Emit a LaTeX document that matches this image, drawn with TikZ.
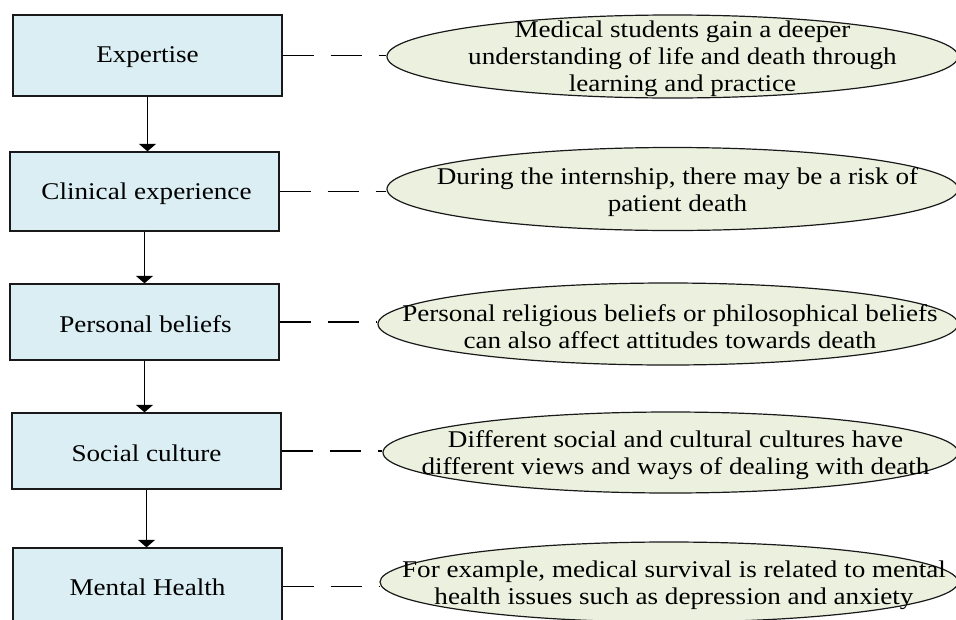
\documentclass[tikz,border=0pt]{standalone}
\usepackage{fontspec}
\setmainfont{Liberation Serif}[FakeStretch=1.13]
\usetikzlibrary{shapes.geometric,arrows.meta,calc}
\definecolor{boxfill}{HTML}{DAEEF3}
\definecolor{ellfill}{HTML}{EBF1DE}
\begin{document}
\begin{tikzpicture}[x=1pt,y=-1pt,
  stepbox/.style={draw=black!90,line width=1.3pt,fill=boxfill,rectangle,minimum width=269pt,inner sep=0pt},
  bubble/.style={draw=black!90,line width=1.2pt,fill=ellfill,ellipse,inner sep=0pt},
  bubbletext/.style={align=center,inner sep=0pt,font=\fontsize{24}{27}\selectfont},
  boxtext/.style={font=\fontsize{24}{27}\selectfont},
  arr/.style={line width=1.2pt,-{Triangle[width=17pt,length=7.5pt]}},
  conn/.style={line width=1.3pt,dash pattern=on 31pt off 17pt}]
\useasboundingbox (0,0) rectangle (956,619);
\clip (0,0) rectangle (956,619);
\fill[white] (0,0) rectangle (956,619);
% boxes
\node[stepbox,minimum height=81pt] (b1) at (147.5,55.5) {};
\node[stepbox,minimum height=79pt] (b2) at (144.5,191.5) {};
\node[stepbox,minimum height=76pt] (b3) at (144.5,322) {};
\node[stepbox,minimum height=76pt] (b4) at (146.5,451) {};
\node[stepbox,minimum height=77pt] (b5) at (147.5,586.5) {};
\node[boxtext] (l1) at ($(b1)+(0,2)$) {Expertise};
\node[boxtext] (l2) at ($(b2)+(2,2)$) {Clinical experience};
\node[boxtext] (l3) at ($(b3)+(1,2)$) {Personal beliefs};
\node[boxtext] (l4) at ($(b4)+(0,2)$) {Social culture};
\node[boxtext] (l5) at ($(b5)+(0,1)$) {Mental Health};
% ellipses
\node[bubble,minimum width=571pt,minimum height=83pt] (e1) at (672.5,56.5) {};
\node[bubble,minimum width=571pt,minimum height=83pt] (e2) at (672.5,189) {};
\node[bubble,minimum width=580pt,minimum height=82pt] (e3) at (668,324) {};
\node[bubble,minimum width=575pt,minimum height=81pt] (e4) at (670.5,452.5) {};
\node[bubble,minimum width=578pt,minimum height=80pt] (e5) at (669,582) {};
% ellipse texts
\node[bubbletext] (t1) at ($(e1)+(10,2)$) {Medical students gain a deeper\\understanding of life and death through\\learning and practice};
\node[bubbletext] (t2) at ($(e2)+(5,3)$) {During the internship, there may be a risk of\\patient death};
\node[bubbletext] (t3) at ($(e3)+(2,3)$) {Personal religious beliefs or philosophical beliefs\\can also affect attitudes towards death};
\node[bubbletext] (t4) at ($(e4)+(5,3)$) {Different social and cultural cultures have\\different views and ways of dealing with death};
\node[bubbletext] (t5) at ($(e5)+(5,3)$) {For example, medical survival is related to mental\\health issues such as depression and anxiety};
% arrows
\draw[arr] (b1.south) -- (b1.south |- b2.north);
\draw[arr] (b2.south) -- (b2.south |- b3.north);
\draw[arr] (b3.south) -- (b3.south |- b4.north);
\draw[arr] (b4.south) -- (b4.south |- b5.north);
% dashed connectors
\draw[conn] (b1.east) -- (b1.east -| e1.west);
\draw[conn] (b2.east) -- (b2.east -| e2.west);
\draw[conn] (b3.east) -- (b3.east -| e3.west);
\draw[conn] (b4.east) -- (b4.east -| e4.west);
\draw[conn] (b5.east) -- (b5.east -| e5.west);
\end{tikzpicture}
\end{document}
